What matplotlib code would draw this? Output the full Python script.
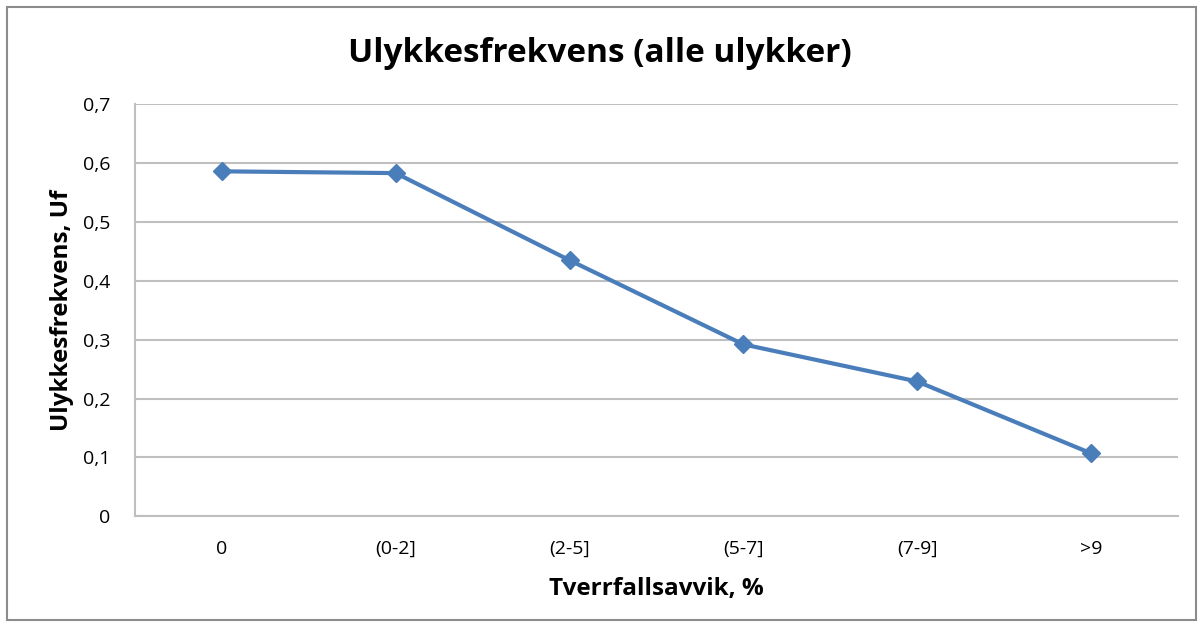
import matplotlib
matplotlib.use("Agg")
import matplotlib.pyplot as plt
from matplotlib.ticker import FuncFormatter, MultipleLocator
from matplotlib.patches import Rectangle

categories = ["0", "(0-2]", "(2-5]", "(5-7]", "(7-9]", ">9"]
values = [0.586, 0.583, 0.435, 0.292, 0.229, 0.107]

plt.rcParams['font.family'] = ['Open Sans', 'DejaVu Sans']

fig = plt.figure(figsize=(12, 6.28), dpi=100)
fig.patches.append(Rectangle((0.006, 0.012), 0.991, 0.977, transform=fig.transFigure,
                             fill=False, edgecolor='#8c8c8c', linewidth=1.5))
ax = fig.add_axes([0.1125, 0.178, 0.869, 0.656])
x = list(range(len(categories)))
ax.plot(x, values, color='#4a7ebb', linewidth=3, marker='D', markersize=9, zorder=3)
ax.set_xlim(-0.5, len(categories) - 0.5)
ax.set_ylim(0, 0.7)
ax.yaxis.set_major_locator(MultipleLocator(0.1))
ax.yaxis.set_major_formatter(FuncFormatter(lambda v, p: "0" if abs(v) < 1e-9 else f"{v:.1f}".replace(".", ",")))
ax.set_xticks(x)
ax.set_xticklabels(categories)
ax.grid(axis='y', color='#bfbfbf', linewidth=1.5)
ax.set_axisbelow(True)
for s in ['top', 'right']:
    ax.spines[s].set_visible(False)
for s in ['bottom', 'left']:
    ax.spines[s].set_color('#bfbfbf')
    ax.spines[s].set_linewidth(1.5)
ax.tick_params(axis='both', length=0, labelsize=14, colors='black')
ax.tick_params(axis='x', pad=17)
ax.tick_params(axis='y', pad=18)
ax.set_xlabel("Tverrfallsavvik, %", fontsize=17.5, fontweight='bold', labelpad=14)
ax.set_ylabel("Ulykkesfrekvens, Uf", fontsize=17.5, fontweight='bold', labelpad=6)
fig.text(0.5, 0.915, "Ulykkesfrekvens (alle ulykker)", ha='center', va='center',
         fontsize=24, fontweight='bold')
fig.savefig("out.png", dpi=100, facecolor='white')
